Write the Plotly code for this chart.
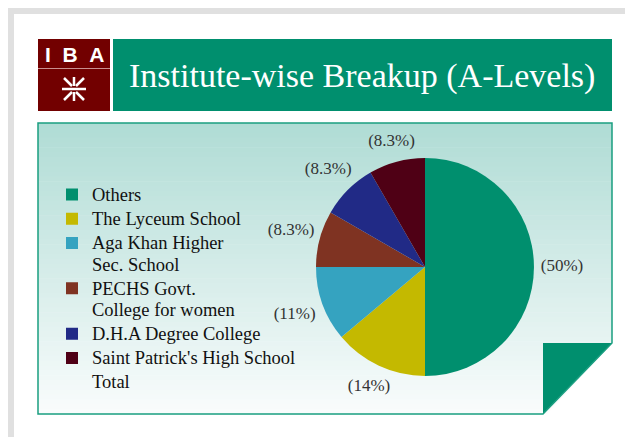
import math
import plotly.graph_objects as go

# the page body keeps its default 8px margin, so the figure is drawn
# 8px smaller and every position below is given in window pixels
OFF = 8
W, H = 633 - OFF, 437 - OFF

# data (counts out of 36 -> 50%, 14%, 11%, 8.3% x3)
institutes = [
    "Others",
    "The Lyceum School",
    "Aga Khan Higher<br>Sec. School",
    "PECHS Govt.<br>College for women",
    "D.H.A Degree College",
    "Saint Patrick's High School",
    "Total",
]
students = [18, 5, 4, 3, 3, 3, 0]
slice_colors = ["#008f6e", "#c4b900", "#35a3c0", "#7f3322", "#212a86", "#4f0015",
                "rgba(0,0,0,0)"]

title_text = "Institute-wise Breakup (A-Levels)"

SERIF = "Liberation Serif, DejaVu Serif, serif"

# pie placement (window pixels)
CX, CY, R = 425, 267, 109
LAB_R = 150  # half size of the label layer


def px(x):
    return (x - OFF) / W


def py(y):
    return 1 - (y - OFF) / H


def rect(x0, y0, x1, y1, color):
    return dict(type="rect", xref="paper", yref="paper", layer="below",
                x0=px(x0), x1=px(x1), y0=py(y0), y1=py(y1),
                fillcolor=color, line=dict(width=0))


def path(points, fill=None, line=None):
    d = "M" + " L".join(f"{px(a):.5f},{py(b):.5f}" for a, b in points) + " Z"
    return dict(type="path", xref="paper", yref="paper", layer="below", path=d,
                fillcolor=fill or "rgba(0,0,0,0)",
                line=line or dict(width=0))


def seg(x0, y0, x1, y1, color, w):
    return dict(type="line", xref="paper", yref="paper", layer="below",
                x0=px(x0), x1=px(x1), y0=py(y0), y1=py(y1),
                line=dict(color=color, width=w))


shapes = []
# grey page frame
shapes.append(rect(OFF, OFF, 633, 14, "#e0e0e0"))
shapes.append(rect(OFF, OFF, 14, 437, "#e0e0e0"))

# IBA logo
shapes.append(rect(38, 39, 110, 111, "#720000"))
shapes.append(seg(38, 68.5, 110, 68.5, "#c99090", 1))
for a, b, c, d in [(62, 89, 86, 89), (74, 77, 74, 86), (74, 92, 74, 101),
                   (64, 78, 72, 86), (84, 78, 76, 86),
                   (64, 100, 72, 92), (84, 100, 76, 92)]:
    shapes.append(seg(a, b, c, d, "white", 2.5))

# title banner
shapes.append(rect(113, 39, 612, 111, "#008f6e"))

# content box with vertical gradient
top_c = (176, 220, 213)
bot_c = (249, 252, 252)
y_top, y_bot = 123, 414
n = 60
for i in range(n):
    t = i / (n - 1)
    c = tuple(round(top_c[k] + (bot_c[k] - top_c[k]) * t) for k in range(3))
    y0 = y_top + (y_bot - y_top) * i / n
    y1 = y_top + (y_bot - y_top) * (i + 1) / n + 0.6
    shapes.append(rect(38, y0, 612, min(y1, y_bot), "rgb(%d,%d,%d)" % c))

# folded corner
shapes.append(path([(612, 343), (616, 343), (616, 418), (543, 418)], fill="white"))
shapes.append(path([(543, 343), (612, 343), (543, 414)], fill="#008f6e"))
shapes.append(path([(38, 123), (612, 123), (612, 343), (543, 414), (38, 414)],
                   line=dict(color="#1a9e80", width=1.5)))

# legend rows are spaced by the legend font size; the glyphs are drawn larger
legend_labels = ['<span style="font-size:18.5px">%s</span>' % t for t in institutes]

fig = go.Figure()
fig.add_trace(
    go.Pie(
        labels=legend_labels,
        values=students,
        sort=False,
        direction="clockwise",
        rotation=0,
        hoverinfo="none",
        marker=dict(colors=slice_colors, line=dict(width=0)),
        textinfo="none",
        domain=dict(x=[px(CX - R), px(CX + R)], y=[py(CY + R), py(CY - R)]),
    )
)

# percentage labels just outside each slice, at the slice's middle angle
total = sum(students)
lab_theta, lab_r, lab_text = [], [], []
acc = 0
for v in students:
    if v > 0:
        mid = (acc + v / 2) / total * 360
        s, c = abs(math.sin(math.radians(mid))), abs(math.cos(math.radians(mid)))
        lab_theta.append(mid)
        lab_r.append(R + 6 + 22 * s + 9 * c)
        lab_text.append("(%s%%)" % format(v / total * 100, ".2g"))
    acc += v

fig.add_trace(
    go.Scatterpolar(
        r=lab_r, theta=lab_theta, text=lab_text,
        mode="text", textposition="middle center",
        textfont=dict(family=SERIF, size=17, color="#333333"),
        cliponaxis=False, showlegend=False, hoverinfo="skip",
    )
)

fig.update_layout(
    width=W, height=H,
    margin=dict(l=0, r=0, t=0, b=0),
    paper_bgcolor="white",
    plot_bgcolor="white",
    shapes=shapes,
    polar=dict(
        domain=dict(x=[px(CX - LAB_R), px(CX + LAB_R)],
                    y=[py(CY + LAB_R), py(CY - LAB_R)]),
        bgcolor="rgba(0,0,0,0)",
        radialaxis=dict(range=[0, LAB_R], visible=False),
        angularaxis=dict(rotation=90, direction="clockwise", visible=False),
    ),
    showlegend=True,
    legend=dict(
        x=px(52), y=py(177.5), xanchor="left", yanchor="top",
        font=dict(family=SERIF, size=16.3, color="#111111"),
        valign="top",
        bgcolor="rgba(0,0,0,0)",
        traceorder="normal",
    ),
    annotations=[
        dict(text=title_text, x=px(362), y=py(76), xref="paper", yref="paper",
             showarrow=False, xanchor="center", yanchor="middle",
             font=dict(family=SERIF, size=34, color="white")),
        dict(text="<b>I\u00a0\u00a0B\u00a0\u00a0A</b>", x=px(75), y=py(55),
             xref="paper", yref="paper",
             showarrow=False, xanchor="center", yanchor="middle",
             font=dict(family="Liberation Sans, Arial, sans-serif", size=21,
                       color="white")),
    ],
)

fig.write_html("out.html")
